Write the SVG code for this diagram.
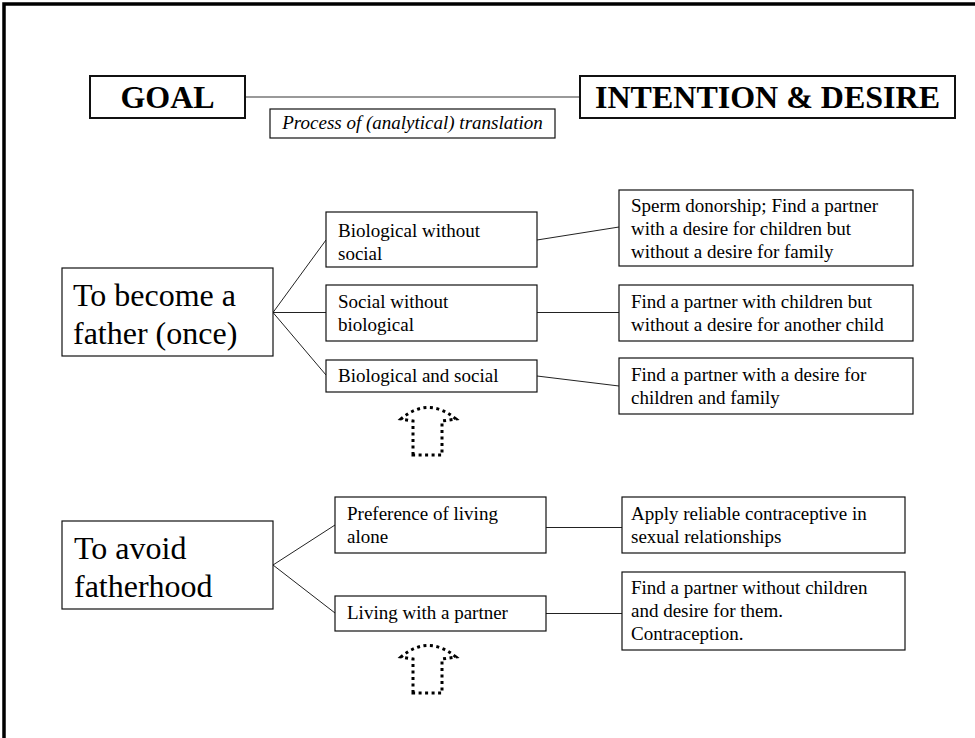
<svg xmlns="http://www.w3.org/2000/svg" width="975" height="738" viewBox="0 0 975 738">
<style>
.box{fill:#fff;stroke:#111;stroke-width:1.2}
.hbox{fill:#fff;stroke:#111;stroke-width:2}
.t{font-family:"Liberation Serif","Times New Roman",serif;fill:#000}
.s19{font-size:19px}
.s32{font-size:32px}
.b32{font-size:32px;font-weight:bold}
.con{stroke:#222;stroke-width:1;fill:none}
.arrow{fill:none;stroke:#000;stroke-width:3;stroke-dasharray:3 3.5}
</style>
<rect x="0" y="0" width="975" height="738" fill="#fff"/>
<path d="M4,738 V4 H975" fill="none" stroke="#000" stroke-width="3.5"/>

<g id="connectors">
<line x1="245" y1="97" x2="580" y2="97" stroke="#777" stroke-width="1.5"/>
<path class="con" d="M326,240 L273,312.5 L326,375 M273,312.5 H326"/>
<path class="con" d="M537,240 L619,227 M537,312.5 H619 M537,376 L619,386"/>
<path class="con" d="M335,525 L273,565 L335,613"/>
<path class="con" d="M546,527.5 H622 M546,613.5 H622"/>
</g>

<g id="goal">
<rect class="hbox" x="90" y="76" width="155" height="42"/>
<text class="t b32" x="167.5" y="108" text-anchor="middle">GOAL</text>
</g>
<g id="intention">
<rect class="hbox" x="580" y="76" width="375" height="42"/>
<text class="t b32" x="767.5" y="108" text-anchor="middle">INTENTION &amp; DESIRE</text>
</g>
<g id="process">
<rect class="box" x="270" y="109" width="285" height="29"/>
<text class="t s19" x="412.5" y="129" text-anchor="middle" font-style="italic">Process of (analytical) translation</text>
</g>

<g id="become-father">
<rect class="box" x="62" y="268" width="211" height="88"/>
<text class="t s32" x="73" y="306">To become a</text>
<text class="t s32" x="73" y="344">father (once)</text>
</g>
<g id="bio-without-social">
<rect class="box" x="326" y="212" width="211" height="55"/>
<text class="t s19" x="338" y="237">Biological without</text>
<text class="t s19" x="338" y="260">social</text>
</g>
<g id="social-without-bio">
<rect class="box" x="326" y="285" width="211" height="56"/>
<text class="t s19" x="338" y="308">Social without</text>
<text class="t s19" x="338" y="331">biological</text>
</g>
<g id="bio-and-social">
<rect class="box" x="326" y="360" width="211" height="32"/>
<text class="t s19" x="338" y="382">Biological and social</text>
</g>
<g id="sperm">
<rect class="box" x="619" y="190" width="294" height="76"/>
<text class="t s19" x="631" y="212">Sperm donorship; Find a partner</text>
<text class="t s19" x="631" y="235">with a desire for children but</text>
<text class="t s19" x="631" y="258">without a desire for family</text>
</g>
<g id="partner-with-children">
<rect class="box" x="619" y="285" width="294" height="56"/>
<text class="t s19" x="631" y="308">Find a partner with children but</text>
<text class="t s19" x="631" y="331">without a desire for another child</text>
</g>
<g id="partner-desire">
<rect class="box" x="619" y="358" width="294" height="56"/>
<text class="t s19" x="631" y="381">Find a partner with a desire for</text>
<text class="t s19" x="631" y="404">children and family</text>
</g>
<g id="arrow1">
<path class="arrow" d="M413,455 V421 L401,419 Q428,396 456,419 L442,421 V455 Z"/>
</g>

<g id="avoid-fatherhood">
<rect class="box" x="62" y="521" width="211" height="88"/>
<text class="t s32" x="74" y="559">To avoid</text>
<text class="t s32" x="74" y="597">fatherhood</text>
</g>
<g id="living-alone">
<rect class="box" x="335" y="497" width="211" height="56"/>
<text class="t s19" x="347" y="520">Preference of living</text>
<text class="t s19" x="347" y="543">alone</text>
</g>
<g id="living-partner">
<rect class="box" x="335" y="596" width="211" height="35"/>
<text class="t s19" x="347" y="619">Living with a partner</text>
</g>
<g id="contraceptive">
<rect class="box" x="622" y="497" width="283" height="56"/>
<text class="t s19" x="631" y="520">Apply reliable contraceptive in</text>
<text class="t s19" x="631" y="543">sexual relationships</text>
</g>
<g id="partner-without-children">
<rect class="box" x="622" y="572" width="283" height="78"/>
<text class="t s19" x="631" y="594">Find a partner without children</text>
<text class="t s19" x="631" y="617">and desire for them.</text>
<text class="t s19" x="631" y="640">Contraception.</text>
</g>
<g id="arrow2">
<path class="arrow" d="M413,693 V659 L401,657 Q428,634 456,657 L442,659 V693 Z"/>
</g>
</svg>
